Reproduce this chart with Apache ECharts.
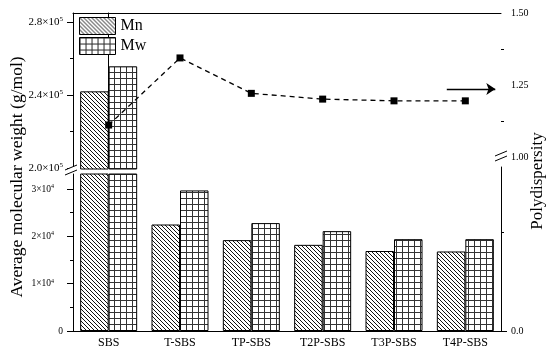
<!DOCTYPE html>
<html><head><meta charset="utf-8">
<script src="https://cdn.jsdelivr.net/npm/echarts@6/dist/echarts.min.js"></script>
<style>html,body{margin:0;padding:0;background:#fff}#c{width:550px;height:352px}</style>
</head><body><div id="c"></div>
<script>
// ---- data ----
const categories = ['SBS', 'T-SBS', 'TP-SBS', 'T2P-SBS', 'T3P-SBS', 'T4P-SBS'];
const mnValues = [242000, 22500, 19200, 18200, 16900, 16800];
const mwValues = [255700, 29700, 22800, 21100, 19400, 19400];
const pdiValues = [1.111, 1.344, 1.221, 1.201, 1.195, 1.195];

const upperTicks = [200000, 240000, 280000];
const upperTickLabels = ['2.0×10^5', '2.4×10^5', '2.8×10^5'];
const upperMinorTicks = [220000, 260000];
const lowerTicks = [0, 10000, 20000, 30000];
const lowerTickLabels = ['0', '1×10^4', '2×10^4', '3×10^4'];
const lowerMinorTicks = [5000, 15000, 25000];
const pdiTicks = [1.0, 1.25, 1.5];
const pdiTickLabels = ['1.00', '1.25', '1.50'];
const pdiMinorTicks = [1.125, 1.375];
const pdiLowTicks = [0];
const pdiLowTickLabels = ['0.0'];
const pdiLowMinorTicks = [0.5];

const upperRange = [199452, 284932];
const lowerRange = [0, 33170];
const pdiRange = [0.9653, 1.5];
const pdiLowRange = [0, 0.828];

const arrowFrom = [4.74, 1.236];
const arrowTo = [5.42, 1.236];

// ---- styling helpers ----
const FONT = '"Liberation Serif", "Times New Roman", serif';

function hatchPattern() {
  const s = 4, c = document.createElement('canvas');
  c.width = s; c.height = s;
  const g = c.getContext('2d');
  g.fillStyle = '#fff'; g.fillRect(0, 0, s, s);
  g.strokeStyle = '#111'; g.lineWidth = 1;
  for (const x0 of [-s, 0, s]) { g.beginPath(); g.moveTo(x0, 0); g.lineTo(x0 + s, s); g.stroke(); }
  return { image: c, repeat: 'repeat' };
}
function gridPattern() {
  const s = 6, c = document.createElement('canvas');
  c.width = s; c.height = s;
  const g = c.getContext('2d');
  g.fillStyle = '#fff'; g.fillRect(0, 0, s, s);
  g.fillStyle = '#333';
  g.fillRect(0, 0, s, 1); g.fillRect(0, 0, 1, s);
  return { image: c, repeat: 'repeat' };
}
const hatch = hatchPattern();
const gridFill = gridPattern();

function fmt(ticks, labels) {
  return v => {
    const i = ticks.findIndex(t => Math.abs(t - v) < 1e-6 * Math.max(1, Math.abs(t)));
    if (i < 0) return '';
    const p = labels[i].split('^');
    return p.length > 1 ? '{n|' + p[0] + '}{e|' + p[1] + '}' : '{n|' + p[0] + '}';
  };
}

const gridRects = [
  { left: 73, top: 13, width: 428, height: 156 },   // 0 upper bars
  { left: 73, top: 174, width: 428, height: 157 },  // 1 lower bars
  { left: 73, top: 13, width: 428, height: 154 },   // 2 line (pdi upper)
  { left: 73, top: 167, width: 428, height: 164 }   // 3 pdi lower
];
const grids = gridRects.concat(gridRects).map(r => Object.assign({ outerBoundsMode: 'none', containLabel: false }, r));

const hiddenX = gi => ({ type: 'category', gridIndex: gi, data: categories, show: false });

function majorY(gi, pos, range, ticks, labels, rich) {
  return {
    type: 'value', gridIndex: gi, position: pos, min: range[0], max: range[1],
    axisLine: { show: true, lineStyle: { color: '#000', width: 1 } },
    axisTick: { show: true, customValues: ticks, length: 6, inside: false, lineStyle: { color: '#000', width: 1 } },
    axisLabel: { show: true, customValues: ticks, formatter: fmt(ticks, labels), margin: 10, rich: rich, color: '#000', fontFamily: FONT },
    splitLine: { show: false }, minorTick: { show: false }
  };
}
function minorY(gi, pos, range, ticks) {
  return {
    type: 'value', gridIndex: gi, position: pos, min: range[0], max: range[1],
    axisLine: { show: false },
    axisTick: { show: true, customValues: ticks, length: 3, inside: false, lineStyle: { color: '#000', width: 1 } },
    axisLabel: { show: false }, splitLine: { show: false }
  };
}

const richUpper = {
  n: { fontSize: 11, fontFamily: FONT, color: '#000', lineHeight: 13 },
  e: { fontSize: 7, fontFamily: FONT, color: '#000', verticalAlign: 'top', lineHeight: 13 }
};
const richLower = {
  n: { fontSize: 9.5, fontFamily: FONT, color: '#000', lineHeight: 11 },
  e: { fontSize: 6, fontFamily: FONT, color: '#000', verticalAlign: 'top', lineHeight: 11, padding: [0, 9, 0, 0] }
};
const richRight = { n: { fontSize: 10, fontFamily: FONT, color: '#000' } };

function breakMark(cx, cy) {
  const a1 = [cx - 6, cy + 1], b1 = [cx + 6, cy - 4], a2 = [cx - 6, cy + 6], b2 = [cx + 6, cy + 1];
  return [
    { type: 'polygon', z: 100, shape: { points: [a1, b1, b2, a2] }, style: { fill: '#fff', stroke: null } },
    { type: 'line', z: 101, shape: { x1: a1[0], y1: a1[1], x2: b1[0], y2: b1[1] }, style: { stroke: '#000', lineWidth: 1 } },
    { type: 'line', z: 101, shape: { x1: a2[0], y1: a2[1], x2: b2[0], y2: b2[1] }, style: { stroke: '#000', lineWidth: 1 } }
  ];
}

const barCommon = { type: 'bar', barWidth: 28.5, barGap: '0%', clip: true, silent: true };
const inUpper = v => (v >= upperRange[0] ? v : '-');

const option = {
  animation: false,
  backgroundColor: '#fff',
  textStyle: { fontFamily: FONT, color: '#000' },
  grid: grids,
  legend: {
    left: 79, top: 17, orient: 'vertical', padding: 0, itemGap: 2,
    itemWidth: 36, itemHeight: 17, icon: 'rect',
    data: ['Mn', 'Mw'],
    itemStyle: { borderColor: '#000', borderWidth: 1 },
    textStyle: { fontSize: 16, fontFamily: FONT, color: '#000' }
  },
  xAxis: [
    { type: 'category', gridIndex: 0, position: 'top', data: categories,
      axisLine: { show: true, lineStyle: { color: '#000', width: 1 } }, axisTick: { show: false }, axisLabel: { show: false }, splitLine: { show: false } },
    { type: 'category', gridIndex: 1, position: 'bottom', data: categories,
      axisLine: { show: true, lineStyle: { color: '#000', width: 1 } }, axisTick: { show: false },
      axisLabel: { show: true, fontSize: 12, fontFamily: FONT, color: '#000', margin: 6, interval: 0 }, splitLine: { show: false } },
    hiddenX(2),
    { type: 'value', gridIndex: 2, min: -0.5, max: 5.5, show: false },
    hiddenX(3), hiddenX(4), hiddenX(5), hiddenX(6), hiddenX(7)
  ],
  yAxis: [
    majorY(0, 'left', upperRange, upperTicks, upperTickLabels, richUpper),
    majorY(1, 'left', lowerRange, lowerTicks, lowerTickLabels, richLower),
    majorY(2, 'right', pdiRange, pdiTicks, pdiTickLabels, richRight),
    majorY(3, 'right', pdiLowRange, pdiLowTicks, pdiLowTickLabels, richRight),
    minorY(4, 'left', upperRange, upperMinorTicks),
    minorY(5, 'left', lowerRange, lowerMinorTicks),
    minorY(6, 'right', pdiRange, pdiMinorTicks),
    minorY(7, 'right', pdiLowRange, pdiLowMinorTicks)
  ],
  series: [
    Object.assign({}, barCommon, { name: 'Mn', xAxisIndex: 0, yAxisIndex: 0, data: mnValues.map(inUpper),
      itemStyle: { color: hatch, borderColor: '#000', borderWidth: 1 } }),
    Object.assign({}, barCommon, { name: 'Mw', xAxisIndex: 0, yAxisIndex: 0, data: mwValues.map(inUpper),
      itemStyle: { color: gridFill, borderColor: '#000', borderWidth: 1 } }),
    Object.assign({}, barCommon, { name: 'Mn', xAxisIndex: 1, yAxisIndex: 1, data: mnValues,
      itemStyle: { color: hatch, borderColor: '#000', borderWidth: 1 } }),
    Object.assign({}, barCommon, { name: 'Mw', xAxisIndex: 1, yAxisIndex: 1, data: mwValues,
      itemStyle: { color: gridFill, borderColor: '#000', borderWidth: 1 } }),
    { type: 'line', name: 'PDI', xAxisIndex: 2, yAxisIndex: 2, data: pdiValues, z: 10, silent: true,
      symbol: 'rect', symbolSize: 7, itemStyle: { color: '#000' },
      lineStyle: { color: '#000', width: 1.3, type: [5, 4] } },
    { type: 'line', name: 'arrow', xAxisIndex: 3, yAxisIndex: 2, data: [], silent: true,
      markLine: { silent: true, symbol: ['none', 'arrow'], symbolSize: 9, label: { show: false },
        lineStyle: { color: '#000', width: 1.3, type: 'solid' },
        emphasis: { disabled: true },
        data: [[{ coord: arrowFrom }, { coord: arrowTo }]] } }
  ],
  graphic: [
    { type: 'text', x: 17, y: 177, rotation: Math.PI / 2, z: 100,
      style: { text: 'Average molecular weight (g/mol)', font: '17.5px ' + FONT, fill: '#000', align: 'center', verticalAlign: 'middle' } },
    { type: 'text', x: 538, y: 181, rotation: Math.PI / 2, z: 100,
      style: { text: 'Polydispersity', font: '17px ' + FONT, fill: '#000', align: 'center', verticalAlign: 'middle' } }
  ].concat(breakMark(71, 169), breakMark(501, 155))
};

const chart = echarts.init(document.getElementById('c'), null, { renderer: 'canvas' });
chart.setOption(option);
</script>
</body></html>
